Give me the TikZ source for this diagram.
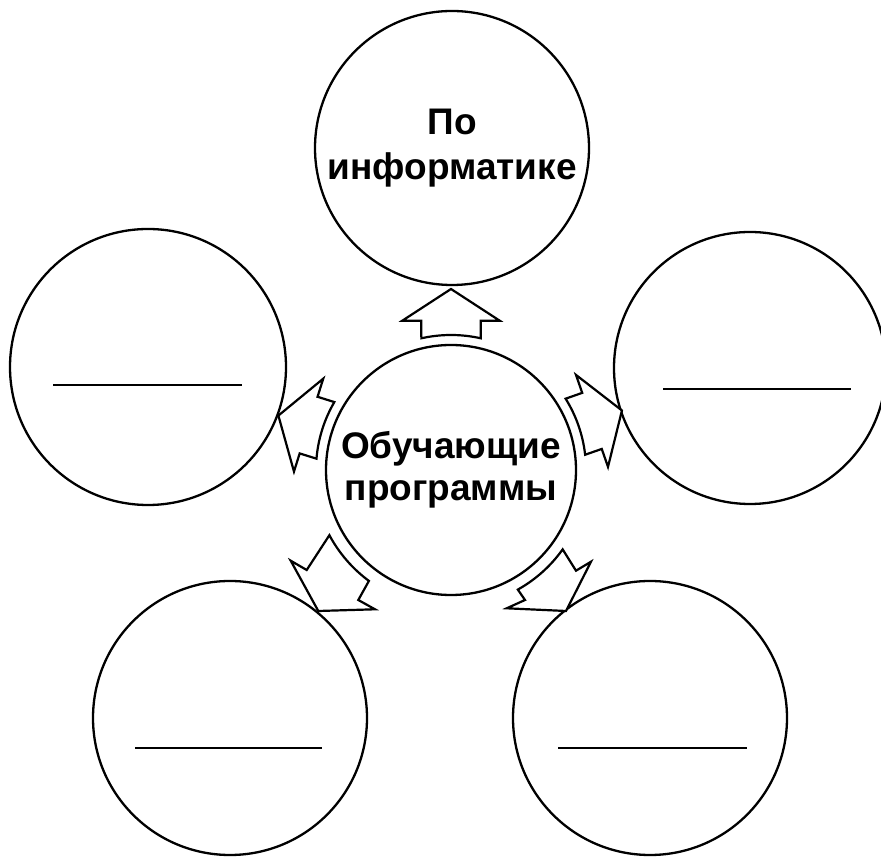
\documentclass[tikz,border=0pt]{standalone}
\usepackage{fontspec}
\setmainfont{Liberation Sans}
\begin{document}
\begin{tikzpicture}[x=1pt,y=1pt,
  bigcircle/.style={circle, draw, line width=2.3pt, minimum size=#1, inner sep=0pt,
    align=center, font=\bfseries\fontsize{37}{45}\selectfont},
  blankline/.style={line width=1.8pt},
  arrowoutline/.style={draw, line width=2.2pt, line join=miter, fill=white},
  radarrow/.pic={
    \path[arrowoutline] (29.7,149.3) -- (29.7,131.7)
      arc[start angle=77.3, end angle=102.7, radius=135pt]
      -- (-29.7,149.3) -- (-48.7,149.3) -- (0,181) -- (48.7,149.3) -- cycle;
  }]
\useasboundingbox (0,0) rectangle (881,857);

\node[bigcircle=274pt] (top) at (452,709) {По\\информатике};
\node[bigcircle=276pt] (left) at (148,490) {};
\node[bigcircle=272pt] (right) at (750,489) {};
\node[bigcircle=274pt] (bl) at (230,139) {};
\node[bigcircle=274pt] (br) at (650,139) {};
\node[bigcircle=250pt, font=\bfseries\fontsize{37}{42}\selectfont] (mid) at (451,387) {Обучающие\\программы};
\coordinate (C) at (451,387);

\draw[blankline] (53,472) -- (242,472);
\draw[blankline] (663,468) -- (851,468);
\draw[blankline] (135,109) -- (322,109);
\draw[blankline] (558,109) -- (747,109);

\pic at (C) {radarrow};
\pic[rotate=72.5] at (C) {radarrow};
\pic[rotate=-70.8] at (C) {radarrow};

\path[arrowoutline] ([shift={(208.2:138pt)}]C)
  arc[start angle=208.2, end angle=233.5, radius=138pt]
  -- (358.3,257) -- (375,247.7) -- (318.3,246) -- (290.7,296.3) -- (306.7,287) -- cycle;

\path[arrowoutline] ([shift={(-60.8:137pt)}]C)
  arc[start angle=-60.8, end angle=-35.4, radius=137pt]
  -- (576,286.3) -- (591,295.3) -- (566,246) -- (506.7,248.7) -- (525,257) -- cycle;
\end{tikzpicture}
\end{document}
